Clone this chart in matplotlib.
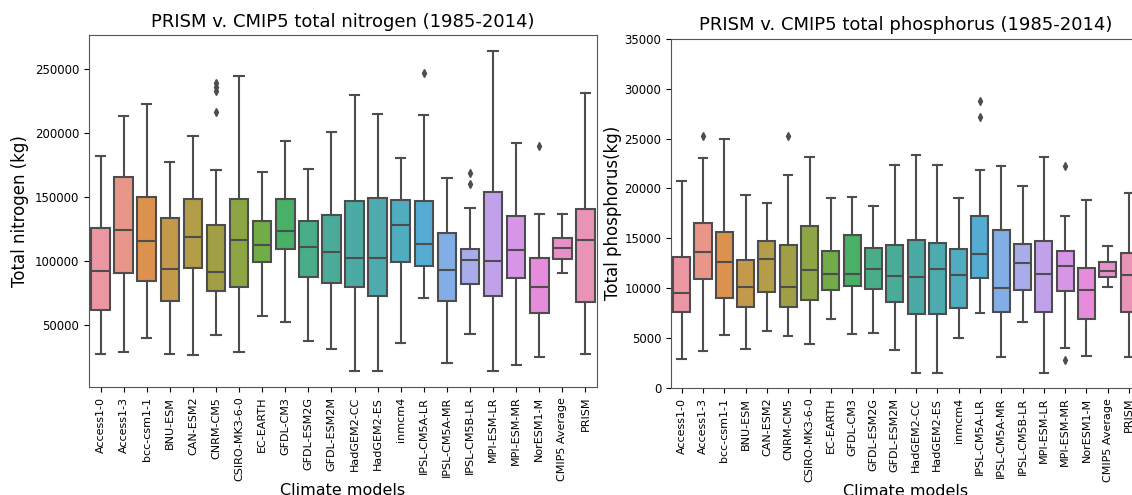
import matplotlib
matplotlib.use("Agg")
import matplotlib.pyplot as plt
import seaborn as sns

MODELS = [
    "Access1-0", "Access1-3", "bcc-csm1-1", "BNU-ESM", "CAN-ESM2", "CNRM-CM5",
    "CSIRO-MK3-6-0", "EC-EARTH", "GFDL-CM3", "GFDL-ESM2G", "GFDL-ESM2M",
    "HadGEM2-CC", "HadGEM2-ES", "inmcm4", "IPSL-CM5A-LR", "IPSL-CM5A-MR",
    "IPSL-CM5B-LR", "MPI-ESM-LR", "MPI-ESM-MR", "NorESM1-M", "CMIP5 Average",
    "PRISM",
]

# nitrogen box statistics (kg): lower whisker, q1, median, q3, upper whisker
N_LOW = [27700, 29300, 40200, 27200, 26900, 42500, 29300, 57100, 52200, 37400, 31100,
         14200, 14400, 36300, 70900, 20700, 42800, 14000, 18900, 24900, 90600, 27500]
N_Q1 = [61500, 90900, 84200, 69000, 94800, 76800, 80000, 99500, 109100, 87800, 82800,
        79500, 72500, 99200, 96400, 69000, 82100, 72900, 86700, 59200, 101600, 68300]
N_MED = [92000, 124200, 115900, 93500, 118700, 91200, 116100, 112500, 123400, 110900, 106800,
         102300, 102100, 128100, 113300, 92700, 100800, 100000, 108600, 80000, 109900, 116100]
N_Q3 = [125700, 165800, 149700, 133800, 148400, 127800, 148100, 131200, 148100, 131000, 135900,
        146600, 149100, 147600, 147000, 122100, 109600, 154100, 134900, 102300, 117900, 140800]
N_HIGH = [181900, 213300, 222200, 177500, 197800, 170700, 244300, 169200, 193300, 171500, 200900,
          229500, 214900, 180100, 213600, 164500, 141300, 263800, 192000, 136400, 136400, 230800]
N_OUT = {5: [239000, 236000, 233000, 216500], 14: [246600], 16: [168900, 160100], 19: [189900]}

# phosphorus box statistics (kg)
P_LOW = [2880, 3680, 5340, 3940, 5740, 5240, 4380, 6910, 5410, 5540, 3840,
         1500, 1540, 5040, 7550, 3110, 6610, 1470, 4040, 3240, 10150, 3110]
P_Q1 = [7580, 10920, 9020, 8120, 9650, 8150, 8850, 9820, 10250, 9890, 8580,
        7410, 7450, 8020, 11050, 7620, 9790, 7650, 9750, 6880, 11090, 7650]
P_MED = [9490, 13600, 12660, 10120, 12890, 10090, 11790, 11390, 11420, 11920, 11250,
         11120, 11890, 11320, 13430, 10020, 12560, 11450, 12190, 9790, 11690, 11320]
P_Q3 = [13160, 16530, 15630, 12860, 14700, 14330, 16270, 13730, 15360, 14000, 14330,
        14800, 14530, 13930, 17200, 15830, 14400, 14700, 13690, 12060, 12590, 13560]
P_HIGH = [20740, 23080, 24980, 19310, 18570, 21310, 23150, 19070, 19110, 18240, 22340,
          23350, 22310, 19070, 21880, 22210, 20270, 23110, 17270, 18840, 14230, 19570]
P_OUT = {1: [25250], 5: [25250], 14: [28760, 27150], 18: [22280, 2840]}

LINE = "#4d4d4d"
# light husl palette, toned down the way seaborn does for box fills
colors = [sns.desaturate(c, 0.75) for c in sns.husl_palette(len(MODELS), l=0.7)]


def box_stats(low, q1, med, q3, high, out):
    stats = []
    for i in range(len(MODELS)):
        stats.append(dict(whislo=low[i], q1=q1[i], med=med[i], q3=q3[i],
                          whishi=high[i], fliers=out.get(i, [])))
    return stats


def draw(ax, stats, title, ylabel):
    pos = list(range(len(stats)))
    bp = ax.bxp(stats, positions=pos, widths=0.8, capwidths=0.4,
                patch_artist=True, showfliers=True,
                boxprops=dict(edgecolor=LINE, linewidth=1.5),
                medianprops=dict(color=LINE, linewidth=1.5),
                whiskerprops=dict(color=LINE, linewidth=1.5),
                capprops=dict(color=LINE, linewidth=1.5),
                flierprops=dict(marker="d", markersize=4, markerfacecolor=LINE,
                                markeredgecolor=LINE, linestyle="none"))
    for patch, c in zip(bp["boxes"], colors):
        patch.set_facecolor(c)
    ax.set_xlim(-0.5, len(stats) - 0.5)
    ax.set_xticks(pos)
    ax.set_xticklabels(MODELS, rotation=90, fontsize=8)
    ax.tick_params(axis="y", labelsize=8.5)
    ax.set_title(title, fontsize=13)
    ax.set_ylabel(ylabel, fontsize=12)
    ax.set_xlabel("Climate models", fontsize=11.5, labelpad=1)
    for s in ax.spines.values():
        s.set_color("#555555")


fig = plt.figure(figsize=(11.32, 4.95), dpi=100)
ax1 = fig.add_axes([0.0786, 0.2182, 0.4488, 0.7111])
ax2 = fig.add_axes([0.5928, 0.2162, 0.4140, 0.7056])

draw(ax1, box_stats(N_LOW, N_Q1, N_MED, N_Q3, N_HIGH, N_OUT),
     "PRISM v. CMIP5 total nitrogen (1985-2014)", "Total nitrogen (kg)")
ax1.set_ylim(1700, 276300)
ax1.set_yticks([50000, 100000, 150000, 200000, 250000])

draw(ax2, box_stats(P_LOW, P_Q1, P_MED, P_Q3, P_HIGH, P_OUT),
     "PRISM v. CMIP5 total phosphorus (1985-2014)", "Total phosphorus(kg)")
ax2.set_ylim(0, 35000)
ax2.set_yticks(range(0, 35001, 5000))
ax2.yaxis.labelpad = 2

fig.savefig("out.png", dpi=100)
